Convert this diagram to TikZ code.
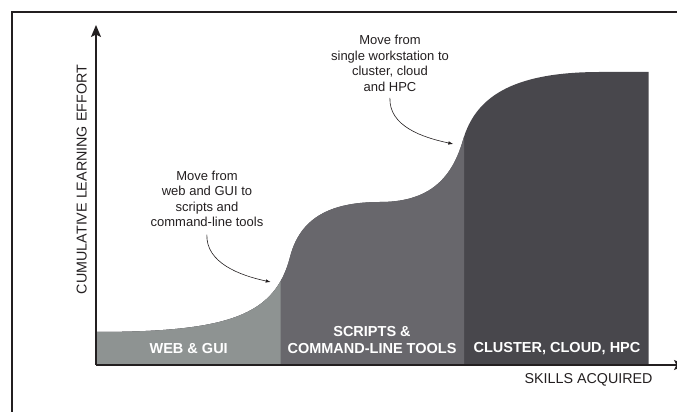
\documentclass[tikz,border=0pt]{standalone}
\usepackage{fontspec}
\setmainfont{Liberation Sans}
\usetikzlibrary{arrows.meta}

\definecolor{lightband}{RGB}{142,147,146}
\definecolor{midband}{RGB}{104,103,108}
\definecolor{darkband}{RGB}{72,71,76}
\definecolor{inkgray}{RGB}{35,31,32}

\def\skillcurve{(96,47) -- (96,80) .. controls (230,80) and (275,97) .. (290,155)
  .. controls (300,194) and (330,210) .. (380,210)
  .. controls (430,210) and (452,234) .. (463,272)
  .. controls (475,313.5) and (510,340) .. (600,340) -- (648.5,340) -- (648.5,47) -- cycle}

\begin{document}
\begin{tikzpicture}[x=1pt, y=1pt,
    axis/.style={line width=1.3pt, inkgray, -{Stealth[length=12pt, width=10pt, inset=2.5pt]}},
    band label/.style={text=white, font=\fontsize{14.5}{17}\selectfont\bfseries, align=center},
    axis label/.style={text=inkgray, font=\fontsize{14.3}{17}\selectfont},
    note/.style={text=inkgray, font=\fontsize{13}{15.5}\selectfont, align=center},
    pointer/.style={inkgray, line width=0.6pt, -{Latex[length=5pt, width=3.5pt]}}]

  \useasboundingbox (0,0) rectangle (677,412);
  \clip (0,0) rectangle (677,412);

  % frame
  \draw[line width=1.5pt, inkgray] (12,-5) -- (12,400) -- (690,400);

  % bands
  \foreach \xr/\col in {648.5/darkband, 464/midband, 280.6/lightband}{
    \begin{scope}
      \clip (96,40) rectangle (\xr,400);
      \fill[\col] \skillcurve;
    \end{scope}
  }

  \node[band label] (web) at (188.7,63) {WEB \& GUI};
  \node[band label] (scripts) at (372,71.5) {SCRIPTS \&\\COMMAND-LINE TOOLS};
  \node[band label] (cluster) at (557,63) {CLUSTER, CLOUD, HPC};

  % axes
  \coordinate (o) at (96,47);
  \coordinate (ytop) at (96,387);
  \coordinate (xend) at (686,47);
  \draw[axis] (o) -- (ytop);
  \draw[axis] (o) -- (xend);

  \node[axis label, rotate=90] (ylabel) at (81.7,232.5) {CUMULATIVE LEARNING EFFORT};
  \node[axis label] (xlabel) at (588.6,32) {SKILLS ACQUIRED};

  % notes
  \node[note] (note1) at (207,213) {Move from\\web and GUI to\\scripts and\\command-line tools};
  \node[note] (note2) at (390,348.7) {Move from\\single workstation to\\cluster, cloud\\and HPC};

  \coordinate (tip1) at (270.7,130);
  \coordinate (tip2) at (453.3,268);
  \draw[pointer, shorten <=4pt] (note1.south) to[out=-92, in=168] (tip1);
  \draw[pointer, shorten <=3pt] (note2.south) to[out=-92, in=168] (tip2);
\end{tikzpicture}
\end{document}
